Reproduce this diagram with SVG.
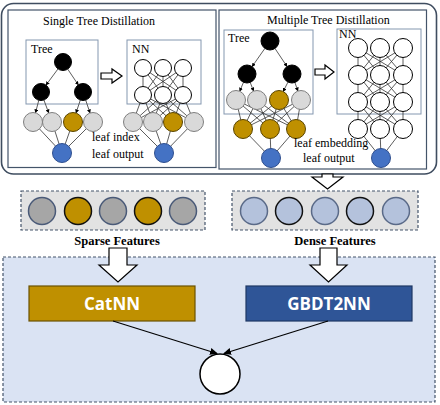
<svg xmlns="http://www.w3.org/2000/svg" width="440" height="405" viewBox="0 0 440 405">
<defs>
<marker id="ah" markerWidth="4" markerHeight="4" refX="3.5" refY="2" orient="auto" markerUnits="userSpaceOnUse"><path d="M0,0 L4,2 L0,4 Z" fill="#000"/></marker>
<marker id="ah2" markerWidth="8" markerHeight="7" refX="7" refY="3.5" orient="auto" markerUnits="userSpaceOnUse"><path d="M0,0 L8,3.5 L0,7 Z" fill="#000"/></marker>
<style>
.frame{fill:#fff;stroke:#3f4d60;stroke-width:1.6}
.panel{fill:#fff;stroke:#44546a;stroke-width:1.2}
.box{fill:none;stroke:#8497b0;stroke-width:1}
.t{font-family:"Liberation Serif",serif;font-size:12px;fill:#000}
.lb{font-family:"Liberation Serif",serif;font-size:12.5px;font-weight:bold;fill:#000}
.e{stroke:#333;stroke-width:0.8;fill:none}
.ea{stroke:#333;stroke-width:0.8;fill:none;marker-end:url(#ah)}
.blk{fill:#000;stroke:#000}
.lg{fill:#d9d9d9;stroke:#7f7f7f;stroke-width:1}
.gd{fill:#bf9000;stroke:#5a4500;stroke-width:1}
.bl{fill:#4472c4;stroke:#2f4f8f;stroke-width:1}
.wn{fill:#fff;stroke:#000;stroke-width:1}
.hollow{fill:#fff;stroke:#000;stroke-width:1.2}
.fbox{fill:#e2e2e2;stroke:#44546a;stroke-width:1.2;stroke-dasharray:3,2}
.fg{fill:#a6a6a6;stroke:#4a5a78;stroke-width:1.5}
.fgo{fill:#bf9000;stroke:#111;stroke-width:1.5}
.fb{fill:#b4c2dc;stroke:#5a6a88;stroke-width:1.5}
.fbk{fill:#b4c2dc;stroke:#111;stroke-width:1.5}
.nn{font-family:"Open Sans","Noto Sans",sans-serif;font-weight:bold;font-size:17px;fill:#fff}
.merge{stroke:#000;stroke-width:1.2;marker-end:url(#ah2)}
</style>
</defs>

<!-- top frame -->
<g id="distillation-frame">
<rect class="frame" x="1.5" y="3.5" width="435" height="170.5" rx="12"/>
</g>

<g id="single-tree-panel">
<rect class="panel" x="8" y="10" width="208" height="157.5"/>
<text class="t" x="43" y="25">Single Tree Distillation</text>
<rect class="box" x="26" y="40" width="72" height="64"/>
<text class="t" x="31" y="53">Tree</text>
<rect class="box" x="127" y="40" width="74" height="64"/>
<text class="t" x="132" y="53">NN</text>
</g>

<g id="multi-tree-panel">
<rect class="panel" x="219" y="10" width="207.5" height="159"/>
<text class="t" x="267" y="24">Multiple Tree Distillation</text>
<rect class="box" x="224" y="30" width="89" height="84"/>
<text class="t" x="228" y="42">Tree</text>
<rect class="box" x="337" y="29" width="84" height="85"/>
<text class="t" x="339" y="38">NN</text>
</g>

<g id="connectors">
<!-- single tree edges -->
<line class="ea" x1="58.0" y1="68.9" x2="46.0" y2="85.1"/>
<line class="ea" x1="67.7" y1="69.1" x2="78.3" y2="84.9"/>
<line class="ea" x1="38.8" y1="100.2" x2="35.5" y2="112.8"/>
<line class="ea" x1="43.9" y1="100.0" x2="48.7" y2="112.9"/>
<line class="ea" x1="80.3" y1="100.1" x2="76.0" y2="113.0"/>
<line class="ea" x1="85.7" y1="100.1" x2="90.0" y2="113.0"/>
<line class="e" x1="33" y1="122" x2="62" y2="153"/>
<line class="e" x1="52" y1="122" x2="62" y2="153"/>
<line class="e" x1="73" y1="122" x2="62" y2="153"/>
<line class="e" x1="93" y1="122" x2="62" y2="153"/>
<!-- single NN edges -->
<path class="e" d="M143,68 L143,95 M143,68 L163,95 M143,68 L183,95 M163,68 L143,95 M163,68 L163,95 M163,68 L183,95 M183,68 L143,95 M183,68 L163,95 M183,68 L183,95"/>
<path class="e" d="M143,95 L133,122 M143,95 L153,122 M143,95 L173,122 M143,95 L194,122 M163,95 L133,122 M163,95 L153,122 M163,95 L173,122 M163,95 L194,122 M183,95 L133,122 M183,95 L153,122 M183,95 L173,122 M183,95 L194,122"/>
<path class="e" d="M133,122 L164,153 M153,122 L164,153 M173,122 L164,153 M194,122 L164,153"/>
<!-- multi tree edges -->
<line class="ea" x1="264.9" y1="48.4" x2="252.1" y2="66.6"/>
<line class="ea" x1="275.0" y1="48.5" x2="287.0" y2="66.5"/>
<line class="ea" x1="243.5" y1="82.3" x2="239.7" y2="91.2"/>
<line class="ea" x1="250.2" y1="82.4" x2="253.6" y2="91.1"/>
<line class="ea" x1="288.0" y1="82.0" x2="283.2" y2="91.5"/>
<line class="ea" x1="294.9" y1="82.5" x2="297.9" y2="91.0"/>
<path class="e" d="M236,100 L243,129 M236,100 L270,129 M236,100 L296,129 M257,100 L243,129 M257,100 L270,129 M257,100 L296,129 M279,100 L243,129 M279,100 L270,129 M279,100 L296,129 M301,100 L243,129 M301,100 L270,129 M301,100 L296,129"/>
<path class="e" d="M243,129 L271,158 M270,129 L271,158 M296,129 L271,158"/>
<!-- multi NN edges -->
<path class="e" d="M358,48 L358,75 M358,48 L380,75 M358,48 L403,75 M380,48 L358,75 M380,48 L380,75 M380,48 L403,75 M403,48 L358,75 M403,48 L380,75 M403,48 L403,75"/>
<path class="e" d="M358,75 L358,102 M358,75 L380,102 M358,75 L403,102 M380,75 L358,102 M380,75 L380,102 M380,75 L403,102 M403,75 L358,102 M403,75 L380,102 M403,75 L403,102"/>
<path class="e" d="M358,102 L358,129 M358,102 L380,129 M358,102 L403,129 M380,102 L358,129 M380,102 L380,129 M380,102 L403,129 M403,102 L358,129 M403,102 L380,129 M403,102 L403,129"/>
<path class="e" d="M358,129 L381,158 M380,129 L381,158 M403,129 L381,158"/>
</g>

<g id="single-tree-nodes">
<circle class="blk" cx="63" cy="62" r="8.5"/>
<circle class="blk" cx="41" cy="92" r="8.5"/>
<circle class="blk" cx="83" cy="92" r="8.5"/>
<circle class="lg" cx="33" cy="122" r="9.5"/>
<circle class="lg" cx="52" cy="122" r="9.5"/>
<circle class="gd" cx="73" cy="122" r="9.5"/>
<circle class="lg" cx="93" cy="122" r="9.5"/>
<circle class="bl" cx="62" cy="153" r="9.5"/>
</g>
<g id="single-nn-nodes">
<circle class="wn" cx="143" cy="68" r="8.5"/>
<circle class="wn" cx="163" cy="68" r="8.5"/>
<circle class="wn" cx="183" cy="68" r="8.5"/>
<circle class="wn" cx="143" cy="95" r="8.5"/>
<circle class="wn" cx="163" cy="95" r="8.5"/>
<circle class="wn" cx="183" cy="95" r="8.5"/>
<circle class="lg" cx="133" cy="122" r="9.5"/>
<circle class="lg" cx="153" cy="122" r="9.5"/>
<circle class="gd" cx="173" cy="122" r="9.5"/>
<circle class="lg" cx="194" cy="122" r="9.5"/>
<circle class="bl" cx="164" cy="153" r="9.5"/>
</g>
<g id="single-labels">
<text class="t" x="92" y="141">leaf index</text>
<text class="t" x="92" y="158">leaf output</text>
</g>
<g id="single-arrow">
<path class="hollow" d="M101,73 L112,73 L112,69 L122,76 L112,83 L112,79 L101,79 Z" stroke-width="0.9" stroke="#44546a"/>
</g>

<g id="multi-tree-nodes">
<circle class="blk" cx="270" cy="41" r="9"/>
<circle class="blk" cx="247" cy="74" r="9"/>
<circle class="blk" cx="292" cy="74" r="9"/>
<circle class="lg" cx="236" cy="100" r="9.5"/>
<circle class="lg" cx="257" cy="100" r="9.5"/>
<circle class="gd" cx="279" cy="100" r="9.5"/>
<circle class="lg" cx="301" cy="100" r="9.5"/>
<circle class="gd" cx="243" cy="129" r="9.5"/>
<circle class="gd" cx="270" cy="129" r="9.5"/>
<circle class="gd" cx="296" cy="129" r="9.5"/>
<circle class="bl" cx="271" cy="158" r="9.5"/>
</g>
<g id="multi-nn-nodes">
<circle class="wn" cx="358" cy="48" r="9.5"/>
<circle class="wn" cx="380" cy="48" r="9.5"/>
<circle class="wn" cx="403" cy="48" r="9.5"/>
<circle class="wn" cx="358" cy="75" r="9.5"/>
<circle class="wn" cx="380" cy="75" r="9.5"/>
<circle class="wn" cx="403" cy="75" r="9.5"/>
<circle class="wn" cx="358" cy="102" r="9.5"/>
<circle class="wn" cx="380" cy="102" r="9.5"/>
<circle class="wn" cx="403" cy="102" r="9.5"/>
<circle class="wn" cx="358" cy="129" r="9.5"/>
<circle class="wn" cx="380" cy="129" r="9.5"/>
<circle class="wn" cx="403" cy="129" r="9.5"/>
<circle class="bl" cx="381" cy="158" r="9.5"/>
</g>
<g id="multi-labels">
<text class="t" x="294" y="147">leaf embedding</text>
<text class="t" x="303" y="162">leaf output</text>
</g>
<g id="multi-arrow">
<path class="hollow" d="M315,69 L325,69 L325,65 L334,72 L325,79 L325,75 L315,75 Z" stroke-width="0.9" stroke="#44546a"/>
</g>

<g id="arrow-to-dense">
<path class="hollow" d="M322,174 L333,174 L333,177 L343,177 L327.5,189 L312,177 L322,177 Z"/>
</g>

<g id="sparse-features">
<rect class="fbox" x="21" y="191" width="184" height="39"/>
<circle class="fg" cx="42" cy="211" r="13.5"/>
<circle class="fgo" cx="78" cy="211" r="13.5"/>
<circle class="fg" cx="113" cy="211" r="13.5"/>
<circle class="fgo" cx="148" cy="211" r="13.5"/>
<circle class="fg" cx="183" cy="211" r="13.5"/>
<text class="lb" x="117" y="245" text-anchor="middle">Sparse Features</text>
</g>
<g id="dense-features">
<rect class="fbox" x="232" y="191" width="186" height="39"/>
<circle class="fb" cx="254" cy="211" r="13.5"/>
<circle class="fbk" cx="289" cy="211" r="13.5"/>
<circle class="fb" cx="325" cy="211" r="13.5"/>
<circle class="fbk" cx="360" cy="211" r="13.5"/>
<circle class="fb" cx="396" cy="211" r="13.5"/>
<text class="lb" x="335" y="245" text-anchor="middle">Dense Features</text>
</g>

<g id="model-panel">
<rect x="3" y="257" width="432" height="145" fill="#dae3f3" stroke="#44546a" stroke-width="1.2" stroke-dasharray="3,2"/>
</g>
<g id="arrow-sparse">
<path class="hollow" d="M109,248 L127,248 L127,265 L137,265 L118,282 L99,265 L109,265 Z"/>
</g>
<g id="arrow-dense">
<path class="hollow" d="M320,248 L337,248 L337,265 L347,265 L328.5,282 L310,265 L320,265 Z"/>
</g>

<g id="catnn">
<rect x="29" y="286" width="166" height="35" fill="#bf9000" stroke="#6b5200" stroke-width="1.2"/>
<text class="nn" x="112" y="310" text-anchor="middle">CatNN</text>
</g>
<g id="gbdt2nn">
<rect x="246" y="286" width="166" height="35" fill="#2f5597" stroke="#1f3864" stroke-width="1.2"/>
<text class="nn" x="329" y="310" text-anchor="middle">GBDT2NN</text>
</g>
<g id="merge-connectors">
<line class="merge" x1="113" y1="321" x2="217" y2="353.5"/>
<line class="merge" x1="328" y1="321" x2="224" y2="353.5"/>
</g>
<g id="output">
<circle cx="220" cy="374" r="20" fill="#fff" stroke="#000" stroke-width="1.5"/>
</g>
</svg>
